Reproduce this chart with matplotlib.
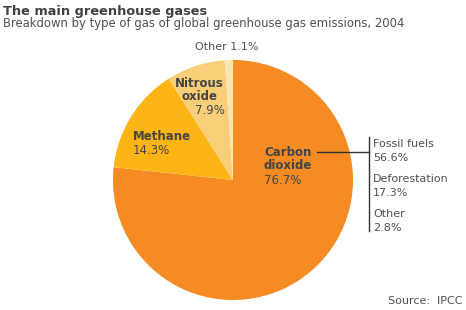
import matplotlib
matplotlib.use("Agg")
import matplotlib.pyplot as plt

gases = ["Carbon\ndioxide", "Methane", "Nitrous\noxide", "Other"]
shares = [76.7, 14.3, 7.9, 1.1]
colors = ["#F58B22", "#FDB515", "#F8CF78", "#FCE4B0"]
co2_parts = ["Fossil fuels", "Deforestation", "Other"]
co2_values = [56.6, 17.3, 2.8]

W, H = 466, 310
fig = plt.figure(figsize=(W / 100, H / 100), dpi=100)
ax = fig.add_axes([0, 0, 1, 1])
ax.pie(shares, colors=colors, startangle=90, counterclock=False,
       center=(233, H - 180), radius=120,
       wedgeprops=dict(linewidth=0))
ax.set_xlim(0, W)
ax.set_ylim(0, H)
ax.set_aspect("equal")
ax.axis("off")

dark = "#444444"
def Y(p):
    return H - p

fig.text(3 / W, 1 - 11 / H, "The main greenhouse gases", fontsize=9.3, fontweight="bold",
         color="#404040", va="center", ha="left")
fig.text(3 / W, 1 - 24 / H, "Breakdown by type of gas of global greenhouse gas emissions, 2004",
         fontsize=8.4, color="#505050", va="center", ha="left")

# slice labels
ax.text(264, Y(159), gases[0], fontsize=8.5, fontweight="bold", color=dark,
        va="center", ha="left", multialignment="left", linespacing=1.05)
ax.text(264, Y(181), f"{shares[0]}%", fontsize=8.5, color=dark, va="center", ha="left")
ax.text(133, Y(136), gases[1], fontsize=8.5, fontweight="bold", color=dark, va="center", ha="left")
ax.text(133, Y(150), f"{shares[1]}%", fontsize=8.5, color=dark, va="center", ha="left")
ax.text(199, Y(90), gases[2], fontsize=8.5, fontweight="bold", color=dark,
        va="center", ha="center", multialignment="center", linespacing=1.05)
ax.text(225, Y(111), f"{shares[2]}%", fontsize=8.5, color=dark, va="center", ha="right")
ax.text(227, Y(47), f"{gases[3]} {shares[3]}%", fontsize=8, color="#505050", va="center", ha="center")

# breakdown of CO2
ax.plot([317, 369], [Y(152), Y(152)], color="#333333", lw=1)
ax.plot([369, 369], [Y(137), Y(231)], color="#333333", lw=1)
ys = [144, 179, 214]
for y, lab, v in zip(ys, co2_parts, co2_values):
    ax.text(373, Y(y), lab, fontsize=8, color="#505050", va="center", ha="left")
    ax.text(373, Y(y + 14), f"{v}%", fontsize=8, color="#505050", va="center", ha="left")

ax.text(463, Y(301), "Source:  IPCC", fontsize=8, color="#505050", va="center", ha="right")

fig.savefig("out.png", dpi=100)
